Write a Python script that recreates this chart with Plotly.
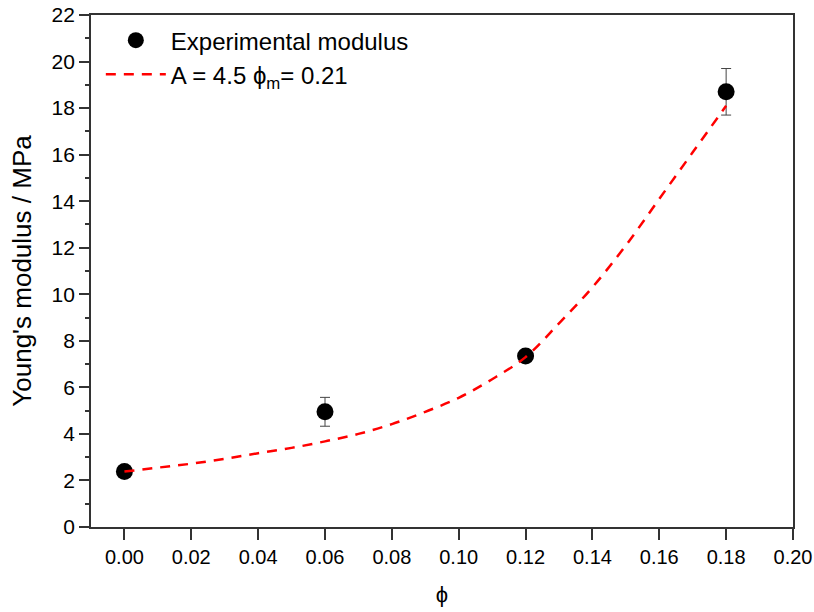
import plotly.graph_objects as go

# Experimental data
phi_exp = [0.00, 0.06, 0.12, 0.18]
E_exp = [2.38, 4.95, 7.35, 18.7]
E_err = [0.2, 0.62, 0.15, 1.0]

# Fitted curve
phi_fit = [0.0, 0.01, 0.02, 0.03, 0.04, 0.05, 0.06, 0.07, 0.08, 0.09,
           0.10, 0.11, 0.12, 0.13, 0.14, 0.15, 0.16, 0.17, 0.18]
E_fit = [2.38, 2.55, 2.72, 2.93, 3.17, 3.40, 3.68, 4.00, 4.42, 4.95,
         5.55, 6.35, 7.30, 8.75, 10.3, 12.1, 14.1, 16.1, 18.1]

x_ticks = [0.00, 0.02, 0.04, 0.06, 0.08, 0.10, 0.12, 0.14, 0.16, 0.18, 0.20]
y_ticks = list(range(0, 23, 2))

FONT = "Arial, Liberation Sans, sans-serif"

fig = go.Figure()
fig.add_trace(go.Scatter(
    x=phi_exp, y=E_exp, mode="markers", name="Experimental modulus",
    marker=dict(color="black", size=17),
    error_y=dict(type="data", array=E_err, color="#444", thickness=1, width=5),
))
fig.add_trace(go.Scatter(
    x=phi_fit, y=E_fit, mode="lines", name="A = 4.5 \u03d5<sub>m</sub>= 0.21",
    line=dict(color="#ff0000", width=2.5, dash="10px,8px", shape="spline"),
))

fig.update_layout(
    width=814, height=612,
    margin=dict(l=91, r=21, t=15, b=85),
    paper_bgcolor="white", plot_bgcolor="white",
    font=dict(family=FONT, color="black"),
    showlegend=True,
    legend=dict(x=0.014, y=0.994, xanchor="left", yanchor="top",
                font=dict(size=24, family=FONT), bgcolor="rgba(0,0,0,0)",
                itemwidth=60, tracegroupgap=0),
)
fig.update_xaxes(
    range=[-0.01, 0.20], tickvals=x_ticks, ticktext=[f"{v:.2f}" for v in x_ticks],
    ticks="outside", ticklen=11, tickwidth=1.5, tickcolor="#333",
    showline=True, linecolor="#333", linewidth=1.8, mirror=True,
    showgrid=False, zeroline=False, automargin=False,
    tickfont=dict(size=20, family=FONT),
    title=dict(text="\u03d5", font=dict(size=22, family=FONT), standoff=20),
)
fig.update_yaxes(
    range=[0, 22], tickvals=y_ticks,
    ticks="outside", ticklen=10, tickwidth=1.5, tickcolor="#333",
    minor=dict(ticks="outside", ticklen=4, tickwidth=1.5, tickcolor="#333", dtick=1),
    showline=True, linecolor="#333", linewidth=1.8, mirror=True,
    showgrid=False, zeroline=False, automargin=False,
    tickfont=dict(size=21, family=FONT),
    title=dict(text="Young's modulus / MPa", font=dict(size=26, family=FONT), standoff=12),
)

fig.write_html("out.html")
